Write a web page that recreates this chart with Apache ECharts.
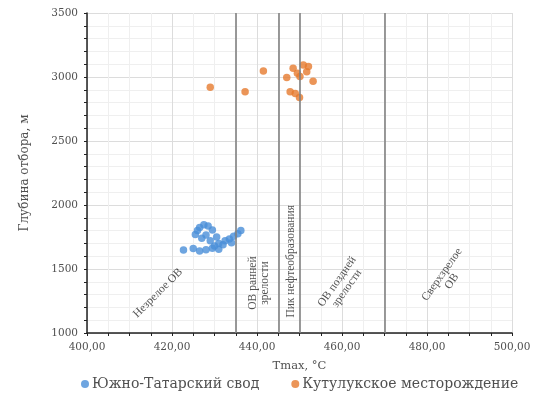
<!DOCTYPE html>
<html>
<head>
<meta charset="utf-8">
<script src="https://cdn.jsdelivr.net/npm/echarts@6/dist/echarts.min.js"></script>
<style>html,body{margin:0;padding:0;background:#fff}#chart{width:534px;height:398px}</style>
</head>
<body>
<div id="chart"></div>
<script>
// Южно-Татарский свод: [Tmax, глубина]
const southTatar = [
  [422.7, 1648], [425.0, 1660], [426.5, 1640], [428.0, 1650], [429.5, 1662], [431.0, 1655],
  [425.5, 1770], [426.0, 1800], [426.5, 1825], [427.5, 1845], [428.5, 1835], [429.5, 1805],
  [428.0, 1765], [427.0, 1740], [429.0, 1720], [430.5, 1750], [431.0, 1700], [432.5, 1720],
  [433.5, 1735], [434.5, 1755], [435.5, 1775], [436.2, 1800], [430.0, 1680], [432.0, 1690],
  [434.0, 1705]
];
// Кутулукское месторождение
const kutuluk = [
  [429.0, 2920], [437.2, 2885], [441.5, 3047], [447.0, 2997], [447.8, 2885], [449.0, 2872],
  [450.0, 2840], [448.5, 3068], [450.9, 3094], [451.7, 3041], [450.1, 3004], [453.2, 2966],
  [452.1, 3083], [449.5, 3030]
];
// Границы зон зрелости ОВ по Tmax
const boundaries = [435, 445, 450, 470];
// Подписи зон: [Tmax, глубина, текст, угол поворота]
const zoneLabels = [
  [416.7, 1312, 'Незрелое ОВ', 45],
  [440.5, 1390, 'ОВ ранней\nзрелости', 90],
  [448.0, 1560, 'Пик нефтеобразования', 90],
  [460.0, 1375, 'ОВ поздней\nзрелости', 55],
  [484.7, 1430, 'Сверхзрелое\nОВ', 55]
];
const xTicks = { min: 400, max: 500, interval: 20 };
const yTicks = { min: 1000, max: 3500, interval: 500 };

const font = 'DejaVu Serif';
const zoneFont = 'Liberation Serif';
const textColor = '#505050';
const chart = echarts.init(document.getElementById('chart'));
chart.setOption({
  animation: false,
  textStyle: { fontFamily: font },
  grid: { left: 87, right: 22, top: 13, bottom: 65 },
  legend: {
    bottom: 2, left: 76, itemGap: 32, itemWidth: 8, itemHeight: 8,
    data: ['Южно-Татарский свод', 'Кутулукское месторождение'],
    textStyle: { fontFamily: font, fontSize: 14, color: textColor, padding: [0, 0, 0, -2] }
  },
  xAxis: {
    type: 'value', min: xTicks.min, max: xTicks.max, interval: xTicks.interval,
    name: 'Tmax, °C', nameLocation: 'middle', nameGap: 27,
    nameTextStyle: { fontFamily: font, fontSize: 11.5, color: textColor },
    axisLine: { show: true, onZero: false, lineStyle: { color: '#222', width: 1.5 } },
    axisTick: { show: true, length: 3, lineStyle: { color: '#222' } },
    minorTick: { show: true, splitNumber: 4, length: 3, lineStyle: { color: '#222' } },
    axisLabel: { fontFamily: font, fontSize: 10.5, color: textColor, margin: 9,
      formatter: v => v.toFixed(2).replace('.', ',') },
    splitLine: { show: true, lineStyle: { color: '#dcdcdc', width: 1 } },
    minorSplitLine: { show: true, lineStyle: { color: '#efefef', width: 1 } }
  },
  yAxis: {
    type: 'value', min: yTicks.min, max: yTicks.max, interval: yTicks.interval,
    name: 'Глубина отбора, м', nameLocation: 'middle', nameGap: 56, nameRotate: 90,
    nameTextStyle: { fontFamily: font, fontSize: 12, color: textColor },
    axisLine: { show: true, onZero: false, lineStyle: { color: '#222', width: 1.5 } },
    axisTick: { show: true, length: 3, lineStyle: { color: '#222' } },
    minorTick: { show: true, splitNumber: 5, length: 3, lineStyle: { color: '#222' } },
    axisLabel: { fontFamily: font, fontSize: 10.5, color: textColor, margin: 9,
      formatter: v => String(v) },
    splitLine: { show: true, lineStyle: { color: '#dcdcdc', width: 1 } },
    minorSplitLine: { show: true, lineStyle: { color: '#efefef', width: 1 } }
  },
  series: [
    {
      name: 'Зоны', type: 'scatter', symbolSize: 0, silent: true, z: 1,
      data: zoneLabels.map(d => ({
        value: [d[0], d[1]],
        label: {
          show: true, position: 'inside', formatter: d[2], rotate: d[3],
          fontFamily: zoneFont, fontSize: 11.5, color: '#262626', lineHeight: 12, align: 'center'
        }
      })),
      markLine: {
        silent: true, symbol: 'none', label: { show: false },
        lineStyle: { color: '#808080', width: 1.6, type: 'solid' },
        data: boundaries.map(b => ({ xAxis: b }))
      }
    },
    {
      name: 'Южно-Татарский свод', type: 'scatter', symbol: 'circle', symbolSize: 7.5, z: 3,
      itemStyle: { color: '#4a8fd8' }, data: southTatar
    },
    {
      name: 'Кутулукское месторождение', type: 'scatter', symbol: 'circle', symbolSize: 7.5, z: 3,
      itemStyle: { color: '#e67a2e' }, data: kutuluk
    }
  ]
});
</script>
</body>
</html>
